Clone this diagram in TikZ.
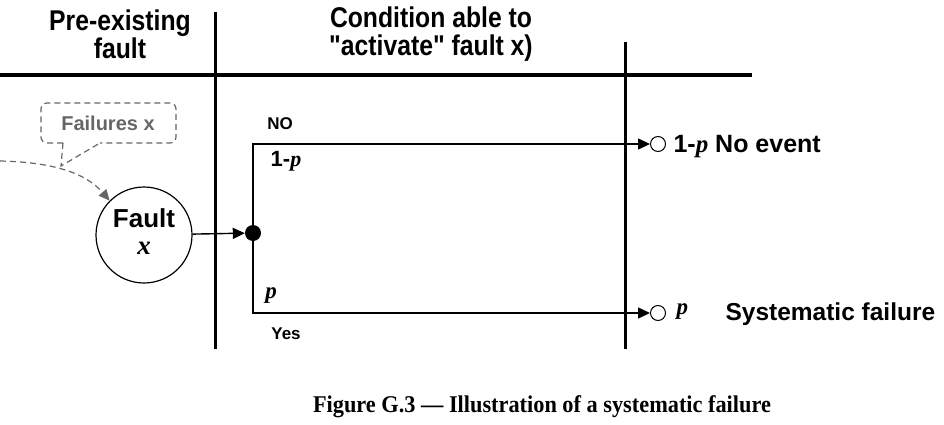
\documentclass[tikz,border=0pt]{standalone}
\usepackage{fontspec}
\setmainfont{Liberation Sans}
\newfontfamily\hsans{Liberation Sans}
\newfontfamily\timesf{Liberation Serif}
\usetikzlibrary{arrows.meta}
\tikzset{
  thickrule/.style={line width=4pt},
  colrule/.style={line width=3pt},
  conn/.style={line width=1.4pt},
  tip/.style={-{Triangle[length=12pt,width=11pt]}},
  head/.style={font=\hsans\fontsize{25.5}{28}\selectfont\bfseries, align=center},
  lbl/.style={font=\fontsize{17}{19}\selectfont\bfseries},
  big/.style={font=\fontsize{24.5}{26}\selectfont\bfseries},
  endc/.style={circle, draw, line width=1pt, minimum size=15pt, inner sep=0pt},
  gdash/.style={dashed, draw=black!60, line width=1.2pt, dash pattern=on 6pt off 4pt},
}
\newcommand{\ip}{{\timesf\itshape\bfseries p}}
\newcommand{\tall}[1]{\scalebox{0.97}[1.12]{#1}}
\begin{document}
\begin{tikzpicture}[x=1pt,y=-1pt]
\useasboundingbox (0,0) rectangle (944,425);
% headers
\node[head] (h1) at (120,34) {\tall{Pre-existing}\\[0pt]\tall{fault}};
\node[head] (h2) at (431,34) {\tall{Condition able to}\\[0pt]\tall{"activate" fault x)}};
% rules
\coordinate (r0) at (0,75);
\coordinate (r1) at (752,75);
\draw[thickrule] (r0) -- (r1);
\coordinate (v1t) at (215,12);
\coordinate (v1b) at (215,349);
\coordinate (v2t) at (625,42);
\coordinate (v2b) at (625,349);
\draw[colrule] (v1t) -- (v1b);
\draw[colrule] (v2t) -- (v2b);
% fault circle
\node[circle, draw, line width=1.2pt, minimum size=96pt, inner sep=0pt] (fault) at (144,235) {};
\node[font=\fontsize{26}{28}\selectfont\bfseries] (ftxt) at (144,218) {Fault};
\node[font=\fontsize{27}{28}\selectfont\timesf\itshape\bfseries] (fx) at (144,248) {x};
% dot
\node[circle, fill=black, minimum size=16pt, inner sep=0pt] (dot) at (253,233) {};
\draw[conn, tip] (fault) -- (dot);
% end circles
\node[endc] (e1) at (658,144) {};
\node[endc] (e2) at (658,313) {};
\draw[conn, tip] (dot.center) |- (e1);
\draw[conn, tip] (dot.center) |- (e2);
% branch labels
\node[lbl] (no) at (280,124) {NO};
\node[font=\fontsize{22}{24}\selectfont\bfseries] (q1) at (286,161) {1-\ip};
\node[font=\fontsize{23}{24}\selectfont\timesf\itshape\bfseries] (q2) at (271,296) {p};
\node[lbl] (yes) at (286,334) {Yes};
% outcomes
\node[font=\fontsize{25}{27}\selectfont\bfseries, anchor=west] (o1) at (670,147) {1-\ip{} No event};
\node[font=\fontsize{23}{24}\selectfont\timesf\itshape\bfseries, anchor=west] (o2p) at (673,312) {p};
\node[big, anchor=west] (o2) at (722,314) {Systematic failure};
% callout
\draw[gdash, rounded corners=6pt] (63,143) -- (41,143) -- (41,103) -- (176,103) -- (176,143) -- (100,143);
\coordinate (apex) at (61,166);
\draw[gdash] (63,143) -- (apex) -- (100,143);
\node[font=\fontsize{20}{22}\selectfont\bfseries, text=black!60] (fl) at (108,123) {Failures x};
\coordinate (cs) at (0,161);
\draw[gdash, -{Triangle[length=11pt,width=10pt]}] (cs) .. controls (50,162) and (85,172) .. (fault.135);
% caption
\node[font=\fontsize{24}{26}\selectfont\timesf\bfseries] (cap) at (542,407) {\scalebox{0.93}[1]{Figure G.3 — Illustration of a systematic failure}};
\end{tikzpicture}
\end{document}
